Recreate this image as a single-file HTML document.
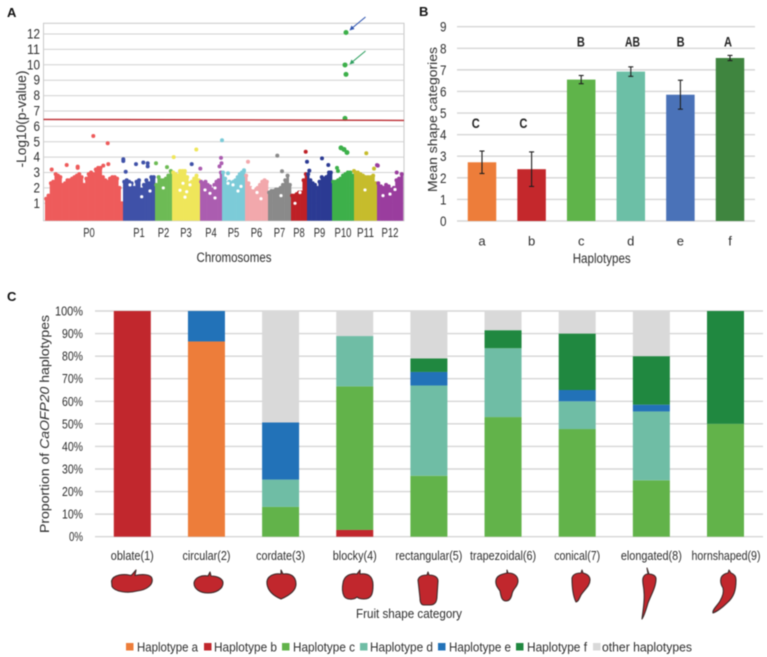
<!DOCTYPE html>
<html lang="en">
<head>
<meta charset="utf-8">
<title>CaOFP20 haplotype association figure</title>
<style>
html,body{margin:0;padding:0;background:#fff;width:767px;height:657px;overflow:hidden}
svg{display:block;filter:blur(0.45px)}
text{font-family:"Liberation Sans",sans-serif;fill:#2e2e2e}
</style>
</head>
<body>
<svg id="fig" xmlns="http://www.w3.org/2000/svg" width="767" height="657" viewBox="0 0 767 657">
  <rect width="767" height="657" fill="#fff"/>
  <g id="panelA"></g>
  <g id="panelB"></g>
  <g id="panelC"></g>
  <g fill="#C1272D" stroke="#3d2a2a" stroke-width="1.1" stroke-linejoin="round">
    <path d="M111.5,581 C113,574.5 124,573.5 131,575.5 C133,574 134,572 136,570 L135,575.5 C142,574 151,574 152,578.5 C153.5,584.5 147,590 137,591 C128,593.5 115,592 112,586.5 Z"/>
    <path d="M194,583 C195,577 202,575 208,576 L210,572 L211,576 C218,576 223,579 223,583 C223,589 216,593 208,593 C200,593 194,589 194,583 Z"/>
    <path d="M267,584 C266,576 274,573 281,574 L281,570 L283,574 C290,573 296,576 296,584 C296,591 288,596 281,599 C274,596 268,591 267,584 Z"/>
    <path d="M343,583 C344,576 350,573 357,574 L360,570 L360,574 C368,573 373,576 373,585 C373,593 372,599 364,599 C360,599 358,598 357,597 C354,600 346,600 344,596 C342,592 342,588 343,583 Z"/>
    <path d="M418,580 C419,576 423,575 427,575 L428,572 L429,575 C434,575 438,577 438,581 L437,596 C437,602 435,605 430,605 L424,605 C421,605 420,602 420,598 Z"/>
    <path d="M496,580 C497,575 503,574 507,573 L507,570 L508,573 C514,573 518,576 518,581 C518,587 513,588 512,594 C511,599 509,601 506,601 C502,601 501,597 500,591 C498,588 495,585 496,580 Z"/>
    <path d="M572,578 C573,574 577,573 581,573 L582,570 L583,573 C587,574 590,576 590,580 C590,586 584,590 581,595 C579,599 578,602 576,602 C574,598 572,590 572,578 Z"/>
    <path d="M643,578 C644,575 646,574 648,574 L647,568 L649,574 C653,574 656,576 656,579 C656,587 651,595 648,603 C646,610 644,616 642,619 C643,610 645,600 644,592 C644,587 642,582 643,578 Z"/>
    <path d="M721,578 C722,575 726,573 728,573 L729,570 L731,573 C734,574 736,576 736,580 C736,590 734,597 727,603 C722,608 716,612 713,613 C712,610 717,606 720,601 C723,596 724,592 723,588 C721,585 720,582 721,578 Z"/>
  </g>
</svg>
<script>
/* ---------- Panel A data ---------- */
var chromNames = ['P0','P1','P2','P3','P4','P5','P6','P7','P8','P9','P10','P11','P12'];
var chromLengths = [78,32,17,28,22,23,23,23,16,25,22,23,26];
var chromColors = ['#EE5B5B','#3F51A8','#6DBB55','#EFE65A','#AB5DB0','#7CCBD8','#F2A8AC','#8A8A8A','#BE2026','#2B3A93','#3DB04A','#C6BC2C','#9A3D9E'];
var envelopeP0 = [1.3,1.5,2.3,2.4,2.9,2.8,2.7,2.2,2.3,2.5,2.5,2.6,2.7,2.8,2.9,2.7,2.2,2.6,2.9,3.0,2.9,3.2,3.3,3.3,2.7,2.5,2.4,2.6,2.7,2.7,2.6,2.0,1.0];
var envelopeP1 = [2.4,2.5,2.4,2.3,2.0,2.4,2.5,1.9,2.2,2.5,2.3,2.7,2.7];
var envelopeP2 = [2.2,2.7,2.5,2.5,2.6,2.8,3.1];
var envelopeP3 = [3.0,2.9,2.8,2.9,3.1,3.1,2.7,2.3,2.4,2.6,2.8,2.5];
var envelopeP4 = [2.4,2.3,2.4,2.2,2.1,1.9,2.2,2.4,2.5,3.0];
var envelopeP5 = [3.0,2.6,2.3,2.4,2.3,2.4,2.5,2.7,2.9,3.0,3.1];
var envelopeP6 = [2.8,2.3,2.0,1.9,1.9,2.0,2.2,2.4,2.5,2.4];
var envelopeP7 = [1.7,1.8,1.8,1.9,1.9,2.0,2.2,2.5,2.8,2.2];
var envelopeP8 = [1.5,1.5,1.6,1.7,1.7,2.5,2.9];
var envelopeP9 = [2.9,2.5,2.3,2.2,2.0,2.4,2.7,2.6,2.7,2.8,3.0];
var envelopeP10 = [2.4,2.4,2.5,2.6,2.8,2.9,3.0,3.0,2.8];
var envelopeP11 = [3.0,3.0,2.9,2.8,2.7,2.7,2.7,2.8,2.3];
var envelopeP12 = [2.3,2.1,2.0,2.2,2.1,1.9,2.0,2.5,2.6,2.9];
var chromEnvelopes = [envelopeP0,envelopeP1,envelopeP2,envelopeP3,envelopeP4,envelopeP5,envelopeP6,envelopeP7,envelopeP8,envelopeP9,envelopeP10,envelopeP11,envelopeP12];
var pointChrom = [0,0,0,0,0,0,0,0,1,1,1,1,1,1,1,1,2,2,3,3,3,4,4,4,4,5,5,5,6,7,7,8,9,9,9,9,9,10,10,10,10,10,10,10,10,10,11,11,11,12,12,12];
var pointPos = [6.7,21.7,32.7,32.7,48.3,62.7,58.3,63.3,68.7,0.3,0.3,2.7,13,20.3,24.7,24.7,1,12,1.7,24.3,8,0.3,21,21.5,19.5,0,22,6,3,9.3,14,14.7,0,15,21.3,2.3,22,14,13,14,13,9,12,15,5,6,12.3,20,0,0,0.8,19.7];
var pointVal = [3.2,3.49,3.38,3.3,5.37,4.9,3.45,3.55,3.55,3.86,3.75,3.05,3.55,3.65,3.6,3.4,3.6,3.35,4.0,4.5,3.1,3.25,3.95,3.6,3.4,5.1,3.15,2.95,3.7,4.1,3.08,4.35,3.7,3.92,3.49,3.12,3.0,12.1,9.99,9.38,6.52,4.6,4.5,4.3,3.3,3.1,4.25,3.25,3.1,3.48,3.45,3.0];
var holeChrom = [1,1,1,2,3,3,3,3,3,4,4,4,4,5,5,5,5,6,6,6,7,8,8,11,12,12,12];
var holePos = [18.7,7,27,8.3,11,14.7,8,18,13,10,5,15,15,11,6,16,19,12,16,8,13,4,9,11,13,18,6];
var holeVal = [1.43,2.2,1.8,2.0,2.3,1.75,1.85,2.2,1.4,1.65,1.87,2.0,1.35,2.2,2.3,1.8,2.1,1.7,1.3,2.0,1.5,1.0,1.7,1.87,1.6,1.9,1.5];
var thresholdValue = 6.42;
var yTicksA = [1,2,3,4,5,6,7,8,9,10,11,12];

/* ---------- Panel B data ---------- */
var hapLabels = ['a','b','c','d','e','f'];
var hapMeans = [2.72,2.4,6.55,6.92,5.85,7.55];
var hapErrors = [0.52,0.8,0.19,0.22,0.67,0.12];
var hapSignificance = ['C','C','B','AB','B','A'];
var hapSignificanceLevel = [4.55,4.55,8.31,8.31,8.31,8.31];
var hapColors = ['#ED7D3A','#C4282C','#5FB44A','#6CBFA6','#4A72B8','#3F853F'];
var yTicksB = [0,1,2,3,4,5,6,7,8,9];

/* ---------- Panel C data ---------- */
var shapeCategories = ['oblate(1)','circular(2)','cordate(3)','blocky(4)','rectangular(5)','trapezoidal(6)','conical(7)','elongated(8)','hornshaped(9)'];
var seriesA = [0,86.5,0,0,0,0,0,0,0];
var seriesB = [100,0,0,3,0,0,0,0,0];
var seriesC = [0,0,13.2,63.6,27,53,47.7,25,50];
var seriesD = [0,0,12.1,22.3,40,30.5,12.3,30.5,0];
var seriesE = [0,13.5,25.3,0,6,0,5,3,0];
var seriesF = [0,0,0,0,6,8,25,21.5,50];
var seriesOther = [0,0,49.4,11.1,21,8.5,10,20,0];
var stackSeries = [seriesA,seriesB,seriesC,seriesD,seriesE,seriesF,seriesOther];
var stackNames = ['Haplotype a','Haplotype b','Haplotype c','Haplotype d','Haplotype e','Haplotype f','other haplotypes'];
var stackColors = ['#ED7D3A','#C1272D','#62B34A','#6FBDA5','#2272B8','#208840','#D9D9D9'];
var percentTicks = [0,10,20,30,40,50,60,70,80,90,100];

/* ---------- helpers ---------- */
var NS = 'http://www.w3.org/2000/svg';
function mk(parent, tag, attrs) {
  var el = document.createElementNS(NS, tag);
  for (var k in attrs) { el.setAttribute(k, attrs[k]); }
  parent.appendChild(el);
  return el;
}
function label(parent, str, x, y, size, anchor, len, rot, weight) {
  var a = {x:x, y:y, 'font-size':size, 'text-anchor':anchor || 'middle'};
  if (len) { a.textLength = len; a.lengthAdjust = 'spacingAndGlyphs'; }
  if (rot) { a.transform = 'rotate(-90 ' + x + ' ' + y + ')'; }
  if (weight) { a['font-weight'] = weight; }
  var el = mk(parent, 'text', a);
  el.textContent = str;
  return el;
}
var el, i, j;

/* ---------- Panel A ---------- */
var gA = document.getElementById('panelA');
var ax = {left:43.5, right:404, top:23.3, bottom:220.7, x0:45, y0:218.7, unit:15.39};
function yA(v) { return ax.y0 - v * ax.unit; }
var chromStart = [];
var cum = 0;
for (i = 0; i < chromLengths.length; i++) { chromStart.push(cum); cum += chromLengths[i]; }
function xA(c, pos) { return ax.x0 + (chromStart[c] + pos) * (358 / cum); }

el = label(gA, 'A', 7, 17, 13, 'start', null, false, 'bold');


el.style.fill = '#111';

el = mk(gA, 'rect', {x:ax.left, y:ax.top, width:ax.right-ax.left, height:ax.bottom-ax.top, fill:'#fff', stroke:'#c8c8c8', 'stroke-width':1});



yTicksA.forEach(function (t) {
  var g = mk(gA, 'line', {x1:ax.left, x2:ax.right, y1:yA(t), y2:yA(t), stroke:'#d2d2d2', 'stroke-width':1});
  
  
  var l = label(gA, String(t), 40, yA(t) + 4.5, 13.5, 'end', t > 9 ? 13 : 6.5);
  
  
});

chromEnvelopes.forEach(function (env, c) {
  var step = chromLengths[c] / env.length;
  env.forEach(function (v, s) {
    var x = xA(c, s * step);
    var w = xA(c, (s + 1) * step) - x;
    var col = mk(gA, 'rect', {x:x, y:yA(v), width:w + 0.3, height:ax.bottom - yA(v), fill:chromColors[c]});
    
    
    var cap = mk(gA, 'circle', {cx:x + w / 2, cy:yA(v), r:2, fill:chromColors[c]});
    
    
  });
  var t = label(gA, chromNames[c], xA(c, chromLengths[c] / 2) + (c === 0 ? 5 : 0), 237, 12.5, 'middle', chromNames[c].length > 2 ? 17 : 11.5);
  
  
});

holeVal.forEach(function (v, h) {
  var hole = mk(gA, 'circle', {cx:xA(holeChrom[h], holePos[h]), cy:yA(v), r:1.6, fill:'#fff'});
  
  
});

pointVal.forEach(function (v, p) {
  var big = v > 4.2 && pointChrom[p] === 10;
  var pt = mk(gA, 'circle', {cx:xA(pointChrom[p], pointPos[p]), cy:yA(v), r:big ? 2.5 : 2, fill:chromColors[pointChrom[p]]});
  
  
});

el = mk(gA, 'line', {x1:ax.left, x2:ax.right, y1:yA(thresholdValue) - 0.5, y2:yA(thresholdValue) + 0.5, stroke:'#BC2C32', 'stroke-width':1.4});



el = mk(gA, 'line', {x1:365.5, y1:17, x2:351, y2:29, stroke:'#2F55B0', 'stroke-width':1.1});


el = mk(gA, 'path', {d:'M349.5,30.5 L351.5,25.5 L354.5,29 Z', fill:'#2F55B0'});


el = mk(gA, 'line', {x1:365.5, y1:51, x2:351, y2:63, stroke:'#2FA060', 'stroke-width':1.1});


el = mk(gA, 'path', {d:'M349.5,64.5 L351.5,59.5 L354.5,63 Z', fill:'#2FA060'});



el = label(gA, '-Log10(p-value)', 26, 119, 13.5, 'middle', 97, true);


el = label(gA, 'Chromosomes', 234, 262, 13.5, 'middle', 75);



/* ---------- Panel B ---------- */
var gB = document.getElementById('panelB');
var bx = {left:457, right:755, y0:221, y9:26.7, first:482, step:49.6, bar:28.5};
function yB(v) { return bx.y0 - v * (bx.y0 - bx.y9) / 9; }
function xB(k) { return bx.first + k * bx.step; }
var sigNudge = [-6.3,-8.2,-0.3,1.7,0.2,-2];

el = label(gB, 'B', 419, 16, 13, 'start', null, false, 'bold');


el.style.fill = '#111';

yTicksB.forEach(function (t) {
  var g = mk(gB, 'line', {x1:bx.left, x2:bx.right, y1:yB(t), y2:yB(t), stroke:'#d6d6d6', 'stroke-width':1.4});
  
  
  var l = label(gB, String(t), 446.5, yB(t) + 5, 13.5, 'end', 6.5);
  
  
});

hapMeans.forEach(function (m, k) {
  var bar = mk(gB, 'rect', {x:xB(k) - bx.bar / 2, y:yB(m), width:bx.bar, height:yB(0) - yB(m), fill:hapColors[k]});
  
  
  var hi = yB(m + hapErrors[k]), lo = yB(m - hapErrors[k]);
  var stem = mk(gB, 'line', {x1:xB(k), x2:xB(k), y1:hi, y2:lo, stroke:'#1e1e1e', 'stroke-width':1.1});
  
  
  var capTop = mk(gB, 'line', {x1:xB(k) - 2.5, x2:xB(k) + 2.5, y1:hi, y2:hi, stroke:'#1e1e1e', 'stroke-width':1.1});
  
  
  var capLow = mk(gB, 'line', {x1:xB(k) - 2.5, x2:xB(k) + 2.5, y1:lo, y2:lo, stroke:'#1e1e1e', 'stroke-width':1.1});
  
  
  var sig = label(gB, hapSignificance[k], xB(k) + sigNudge[k], yB(hapSignificanceLevel[k]) + 5, 13.5, 'middle', hapSignificance[k].length > 1 ? 15 : 8, false, 'bold');
  
  
  sig.style.fill = '#222';
  var cat = label(gB, hapLabels[k], xB(k), 245.5, 13, 'middle');
  
  
});

el = label(gB, 'Mean shape categories', 437, 119.5, 13, 'middle', 145, true);


el = label(gB, 'Haplotypes', 601.7, 263, 13.5, 'middle', 58);



/* ---------- Panel C ---------- */
var gC = document.getElementById('panelC');
var cx = {left:95, right:763, top:311, bottom:536.7, first:132.3, step:74.15, bar:37};
function yC(p) { return cx.bottom - p / 100 * (cx.bottom - cx.top); }
function xC(k) { return cx.first + k * cx.step; }
var catWidths = [43,48,49,44,67,66,46,61,69];

el = label(gC, 'C', 7, 301, 13, 'start', null, false, 'bold');


el.style.fill = '#111';

percentTicks.forEach(function (t) {
  var g = mk(gC, 'line', {x1:cx.left, x2:cx.right, y1:yC(t), y2:yC(t), stroke:'#d6d6d6', 'stroke-width':1.4});
  
  
  var s = t + '%';
  var l = label(gC, s, 83, yC(t) + 4.5, 13, 'end', s.length === 4 ? 28 : (s.length === 3 ? 21 : 14));
  
  
});

shapeCategories.forEach(function (name, k) {
  var base = 0;
  stackSeries.forEach(function (series, s) {
    var v = series[k];
    if (v > 0) {
      var seg = mk(gC, 'rect', {x:xC(k) - cx.bar / 2, y:yC(base + v), width:cx.bar, height:yC(base) - yC(base + v), fill:stackColors[s]});
      
      
    }
    base += v;
  });
  var c = label(gC, name, xC(k) + (k === 8 ? 0.5 : 0), 560, 12.5, 'middle', catWidths[k]);
  
  
});

el = mk(gC, 'text', {x:49, y:424, 'font-size':13, 'text-anchor':'middle', textLength:218, lengthAdjust:'spacingAndGlyphs', transform:'rotate(-90 49 424)'});


el.appendChild(document.createTextNode('Proportion of '));
var italicPart = mk(el, 'tspan', {'font-style':'italic'});
italicPart.textContent = 'CaOFP20';
el.appendChild(document.createTextNode(' haplotypes'));

el = label(gC, 'Fruit shape category', 409, 618, 13, 'middle', 106);



var legendSwatchX = [126,204,282,360,438,516,593];
var legendTextX = [137,214,293,370,449,527,602];
var legendTextW = [61,63,62,63,62,60,90];
stackNames.forEach(function (name, s) {
  var sw = mk(gC, 'rect', {x:legendSwatchX[s], y:643, width:7.5, height:7.5, fill:stackColors[s]});
  
  
  var t = label(gC, name, legendTextX[s], 651.5, 13, 'start', legendTextW[s]);
  
  
});
</script>
</body>
</html>
